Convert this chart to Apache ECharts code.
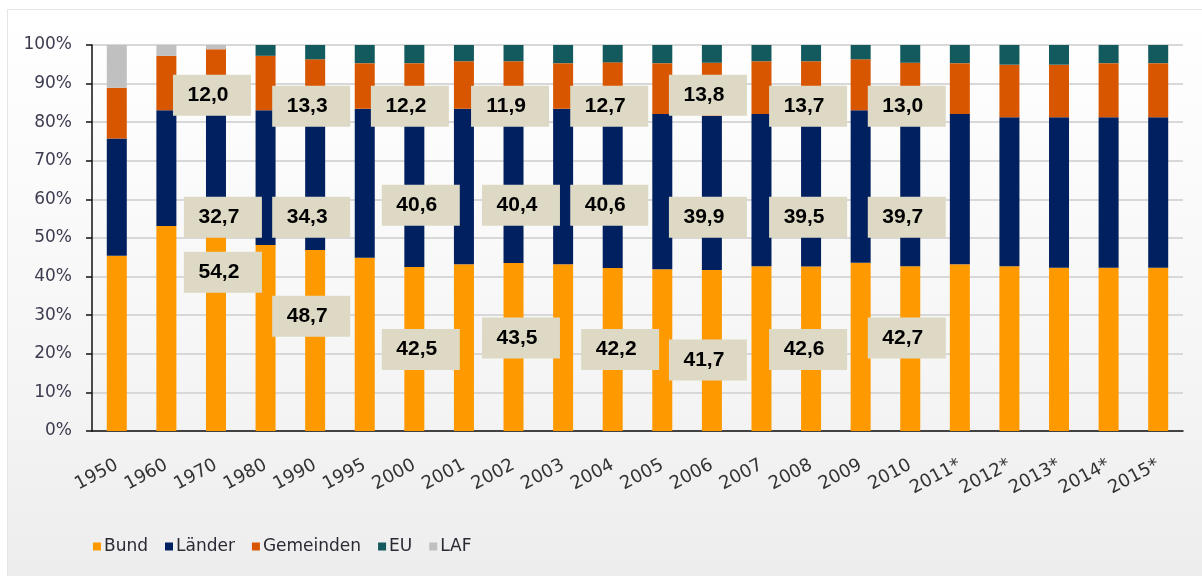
<!DOCTYPE html>
<html>
<head>
<meta charset="utf-8">
<script src="https://cdn.jsdelivr.net/npm/echarts@6/dist/echarts.min.js"></script>
<style>
  html, body { margin: 0; padding: 0; background: #fff; }
  #panel { position: absolute; left: 7px; top: 9px; width: 1195px; height: 567px;
           border-left: 1px solid #e4e4e4; border-top: 1px solid #e4e4e4;
           background: linear-gradient(to bottom, #ffffff 0%, #f6f6f6 60%, #ededed 100%); }
  #main { position: absolute; left: 0; top: 0; width: 1202px; height: 576px; }
</style>
</head>
<body>
<div id="panel"></div>
<div id="main"></div>
<script type="text/javascript">
// Jahre
var years = ['1950', '1960', '1970', '1980', '1990', '1995', '2000', '2001', '2002', '2003', '2004',
  '2005', '2006', '2007', '2008', '2009', '2010', '2011*', '2012*', '2013*', '2014*', '2015*'];

// Anteile in %
var bund      = [45.4, 53.1, 54.2, 48.2, 46.9, 44.9, 42.5, 43.2, 43.5, 43.2, 42.2, 41.9, 41.7, 42.7, 42.6, 43.6, 42.7, 43.2, 42.7, 42.3, 42.3, 42.3];
var laender   = [30.4, 30.0, 32.7, 34.9, 36.1, 38.6, 40.6, 40.3, 40.4, 40.3, 40.6, 40.2, 39.9, 39.4, 39.5, 39.5, 39.7, 38.9, 38.6, 39.0, 39.0, 39.0];
var gemeinden = [13.1, 14.1, 12.0, 14.1, 13.3, 11.8, 12.2, 12.3, 11.9, 11.8, 12.7, 13.2, 13.8, 13.7, 13.7, 13.2, 13.0, 13.2, 13.6, 13.6, 14.0, 14.0];
var eu        = [0, 0, 0, 2.8, 3.7, 4.7, 4.7, 4.2, 4.2, 4.7, 4.5, 4.7, 4.6, 4.2, 4.2, 3.7, 4.6, 4.7, 5.1, 5.1, 4.7, 4.7];
var laf       = [11.1, 2.8, 1.1, 0, 0, 0, 0, 0, 0, 0, 0, 0, 0, 0, 0, 0, 0, 0, 0, 0, 0, 0];

var yTicks = [0, 10, 20, 30, 40, 50, 60, 70, 80, 90, 100];

// Beschriftungskästen (Text, Lage in Achsen-Einheiten)
var annoText = ['12,0', '32,7', '54,2', '13,3', '34,3', '48,7', '12,2', '40,6', '42,5', '11,9', '40,4', '43,5',
  '12,7', '40,6', '42,2', '13,8', '39,9', '41,7', '13,7', '39,5', '42,6', '13,0', '39,7', '42,7'];
var annoX = [2.42, 2.64, 2.64, 4.42, 4.42, 4.42, 6.41, 6.63, 6.63, 8.43, 8.65, 8.65,
  10.43, 10.43, 10.65, 12.42, 12.42, 12.42, 14.44, 14.44, 14.44, 16.43, 16.43, 16.43];
var annoY = [87.0, 55.4, 41.1, 84.1, 55.4, 29.7, 84.1, 58.5, 21.1, 84.1, 58.5, 24.1,
  84.1, 58.5, 21.1, 87.0, 55.4, 18.4, 84.1, 55.4, 21.1, 84.1, 55.4, 24.1];

var annoData = annoText.map(function (t, i) { return { value: [annoX[i], annoY[i]], name: t }; });

var chart = echarts.init(document.getElementById('main'));

function barSeries(name, data, color) {
  return {
    name: name,
    type: 'bar',
    stack: 'total',
    barWidth: 20,
    itemStyle: { color: color },
    emphasis: { disabled: true },
    data: data
  };
}

chart.setOption({
  animation: false,
  backgroundColor: 'transparent',
  textStyle: { fontFamily: 'DejaVu Sans' },
  grid: { left: 92, right: 19, top: 45, bottom: 145 },
  legend: {
    left: 88,
    top: 533,
    icon: 'rect',
    itemWidth: 8,
    itemHeight: 8,
    itemGap: 17,
    textStyle: { fontSize: 17, color: '#2a2a35', padding: [0, 0, 0, -2] },
    data: ['Bund', 'Länder', 'Gemeinden', 'EU', 'LAF']
  },
  xAxis: [{
    type: 'category',
    data: years,
    axisLine: { lineStyle: { color: '#111', width: 1.5 } },
    axisTick: { length: 5, lineStyle: { color: '#111', width: 1.5 } },
    axisLabel: { interval: 0, hideOverlap: false, rotate: 28, margin: 33, fontSize: 18, color: '#333' }
  }, {
    type: 'value',
    min: 0,
    max: years.length,
    show: false
  }],
  yAxis: {
    type: 'value',
    min: 0,
    max: 100,
    interval: 10,
    axisLine: { show: true, lineStyle: { color: '#111', width: 1.5 } },
    axisTick: { show: true, length: 6, lineStyle: { color: '#111', width: 1.5 } },
    axisLabel: { fontSize: 17, color: '#3c3c50', margin: 20,
      formatter: function (v) { return yTicks.indexOf(v) >= 0 ? v + '%' : ''; } },
    splitLine: { lineStyle: { color: '#d8d8d8', width: 2 } }
  },
  series: [
    barSeries('Bund', bund, '#ff9900'),
    barSeries('Länder', laender, '#002060'),
    barSeries('Gemeinden', gemeinden, '#d95600'),
    barSeries('EU', eu, '#135a5e'),
    barSeries('LAF', laf, '#c0c0c0'),
    {
      type: 'scatter',
      xAxisIndex: 1,
      symbol: 'rect',
      symbolSize: [78, 41],
      z: 5,
      itemStyle: { color: '#ddd9c4', opacity: 1 },
      emphasis: { disabled: true },
      label: {
        show: true,
        position: 'inside',
        offset: [-4, 0],
        formatter: function (p) { return p.name; },
        fontFamily: 'Liberation Sans',
        fontWeight: 'bold',
        fontSize: 21,
        color: '#000'
      },
      data: annoData
    }
  ]
});
</script>
</body>
</html>
